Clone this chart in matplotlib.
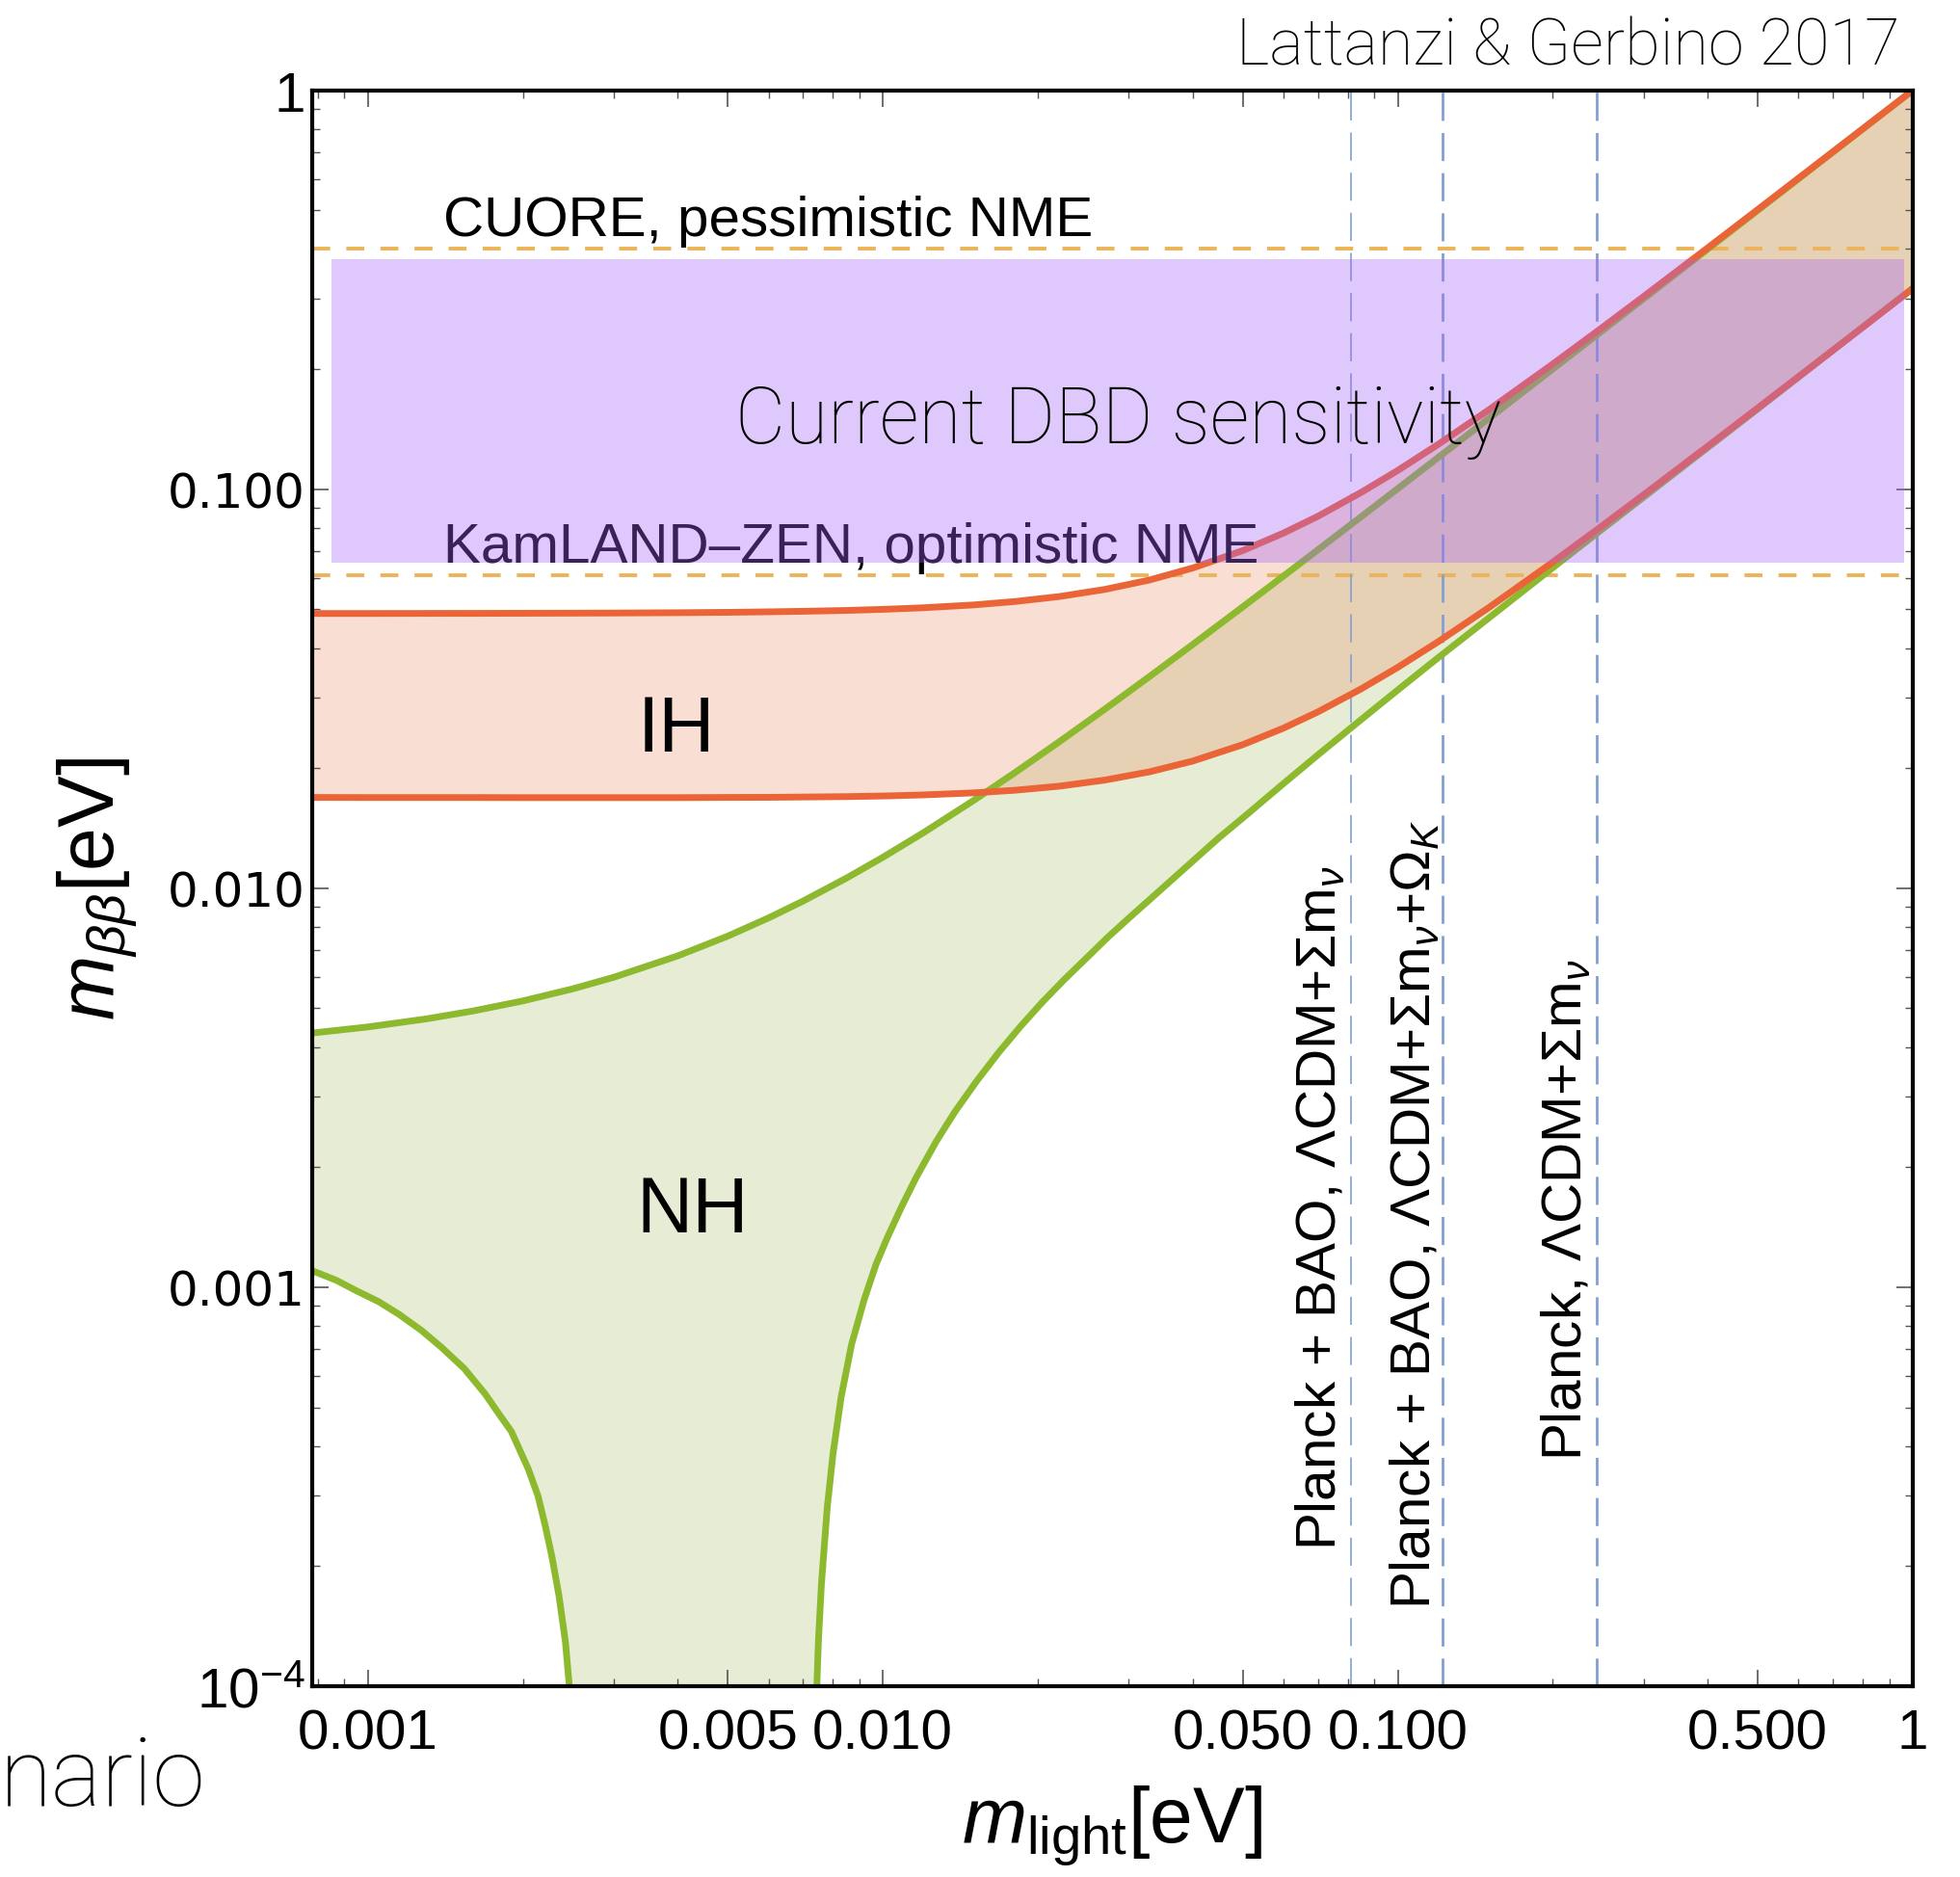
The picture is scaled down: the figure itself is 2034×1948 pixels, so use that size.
import matplotlib
matplotlib.use("Agg")
import matplotlib.pyplot as plt
from matplotlib.ticker import FixedLocator, FixedFormatter, LogLocator, NullFormatter

plt.rcParams['font.family'] = ['Liberation Sans', 'DejaVu Sans']
plt.rcParams['mathtext.fontset'] = 'custom'
plt.rcParams['mathtext.rm'] = 'Liberation Sans'
plt.rcParams['mathtext.it'] = 'Liberation Sans:italic'
plt.rcParams['mathtext.bf'] = 'Liberation Sans:bold'

# lightest neutrino mass grid [eV]
m_light = [0.00078, 0.001, 0.0013, 0.0016, 0.002, 0.0025, 0.003, 0.004, 0.005, 0.006, 0.007, 0.0085,
           0.01, 0.012, 0.015, 0.018, 0.022, 0.027, 0.033, 0.04, 0.05, 0.06, 0.07, 0.085,
           0.1, 0.12, 0.15, 0.2, 0.25, 0.3, 0.4, 0.5, 0.7, 1.0]

# inverted hierarchy band
ih_upper = [0.04883, 0.04883, 0.04885, 0.04886, 0.04889, 0.04892, 0.04896, 0.04905, 0.04916, 0.0493, 0.04945, 0.0497,
            0.0500, 0.05047, 0.0513, 0.0523, 0.05384, 0.05611, 0.05926, 0.0635, 0.0702, 0.07767, 0.0856, 0.09829,
            0.1115, 0.12976, 0.1579, 0.2060, 0.25483, 0.3040, 0.40304, 0.5024, 0.7017, 1.0]
ih_lower = [0.01689, 0.01688, 0.01688, 0.01688, 0.01687, 0.01687, 0.01687, 0.01687, 0.01689, 0.0169, 0.01693, 0.01697,
            0.01703, 0.01714, 0.01734, 0.0176, 0.01802, 0.01867, 0.01959, 0.02084, 0.0229, 0.0252, 0.02768, 0.03163,
            0.03579, 0.04154, 0.05044, 0.06568, 0.08117, 0.0968, 0.12825, 0.15984, 0.2232, 0.3184]

# normal hierarchy band
nh_upper = [0.004336, 0.004491, 0.004706, 0.004925, 0.005219, 0.005596, 0.00598, 0.00677, 0.007586, 0.008426, 0.009285,
            0.010603, 0.011953, 0.013786, 0.016589, 0.019436, 0.023276, 0.028123, 0.033981, 0.040855, 0.05072,
            0.060621, 0.070544, 0.085459, 0.100395, 0.120334, 0.15027, 0.2002, 0.250164, 0.30014, 0.400105,
            0.50008, 0.70006, 1.0]
nh_lower_left_x = [0.00078, 0.00087, 0.00095, 0.00105, 0.00115, 0.00127, 0.00139, 0.00154, 0.00169, 0.0018, 0.0019,
                   0.00205, 0.00214, 0.00221, 0.00228, 0.00235, 0.00242, 0.0025, 0.00256, 0.0026, 0.00263]
nh_lower_left_y = [0.00110, 0.00104, 0.00098, 0.00092, 0.000855, 0.00078, 0.000707, 0.000625, 0.00054, 0.00048, 0.000435,
                   0.00035, 0.0003, 0.000253, 0.00021, 0.000169, 0.000129, 8.0e-5, 4.5e-5, 2.2e-5, 1e-6]
nh_lower_right_x = [0.00724, 0.0073, 0.0074, 0.0075, 0.0076, 0.0078, 0.008, 0.0083, 0.0087, 0.0092, 0.0097, 0.0102,
                    0.0109, 0.0116, 0.0127, 0.0138, 0.0152, 0.0168, 0.0185, 0.0204, 0.0225, 0.0247, 0.0273, 0.03,
                    0.034, 0.04, 0.045, 0.05, 0.06, 0.07, 0.085, 0.1, 0.12, 0.15, 0.2, 0.25, 0.3, 0.4, 0.5, 0.7, 1.0]
nh_lower_right_y = [1e-6, 3.0e-5, 8.0e-5, 0.00013, 0.00018, 0.00028, 0.00038, 0.00053, 0.00072, 0.00093, 0.00114, 0.00133,
                    0.0016, 0.00188, 0.00232, 0.00275, 0.00328, 0.00388, 0.0045, 0.00518, 0.0059, 0.00663, 0.00752, 0.0084,
                    0.0097, 0.0117, 0.0134, 0.0150, 0.0183, 0.0216, 0.0265, 0.0314, 0.0379, 0.0475, 0.0636, 0.0796,
                    0.0955, 0.1273, 0.159, 0.223, 0.319]

# experimental limits and cosmological bounds
cuore_limit = 0.40
kamland_limit = 0.061
dbd_box_x = [0.00085, 0.961]
dbd_box_y = [0.0653, 0.377]
cosmo_bounds = [0.081, 0.122, 0.243]
cosmo_labels = [r'Planck + BAO, $\Lambda$CDM+$\Sigma$m$_{\nu}$',
                r'Planck + BAO, $\Lambda$CDM+$\Sigma$m$_{\nu}$+$\Omega_K$',
                r'Planck, $\Lambda$CDM+$\Sigma$m$_{\nu}$']
cosmo_label_x = [0.0758, 0.1153, 0.2273]
cosmo_label_y = [0.00022, 0.000157, 0.000369]

x_ticks = [0.001, 0.005, 0.01, 0.05, 0.1, 0.5, 1]
x_ticklabels = ['0.001', '0.005', '0.010', '0.050', '0.100', '0.500', '1']
y_ticks = [1e-4, 1e-3, 1e-2, 1e-1, 1]
y_ticklabels = [r'$10^{-4}$', '0.001', '0.010', '0.100', '1']

orange = '#EB6437'
green = '#8CB92D'
narrow = ['Liberation Sans Narrow', 'Liberation Sans', 'DejaVu Sans']
light = ['Roboto', 'Liberation Sans', 'DejaVu Sans']

fig = plt.figure(figsize=(20.34, 19.49), dpi=100)
ax = fig.add_axes([0.1593, 0.1016, 0.8166, 0.8498])
ax.set_xscale('log')
ax.set_yscale('log')
ax.set_xlim(0.00078, 1.0)
ax.set_ylim(1e-4, 1)

# NH region (lower edge drops to zero between the two branches)
low_x = nh_lower_left_x + nh_lower_right_x
low_y = nh_lower_left_y + nh_lower_right_y
ax.fill(m_light + low_x[::-1], nh_upper + low_y[::-1], color='#82A528', alpha=0.2, lw=0, zorder=1)
ax.fill_between(m_light, ih_lower, ih_upper, color='#EA8962', alpha=0.28, lw=0, zorder=1.1)

# limits
for yv in [cuore_limit, kamland_limit]:
    ax.axhline(yv, color='#EBB45A', lw=2.8, ls=(0, (4.8, 4.3)), zorder=2)
for i, xv in enumerate(cosmo_bounds):
    w = 1.2 if i == 0 else 2.0
    ax.axvline(xv, color='#82A0D2', lw=w, ls=(0, (21 / w, 9 / w)), zorder=2)

ax.plot(m_light, nh_upper, color=green, lw=5, zorder=3)
ax.plot(nh_lower_left_x, nh_lower_left_y, color=green, lw=5, zorder=3)
ax.plot(nh_lower_right_x, nh_lower_right_y, color=green, lw=5, zorder=3)
ax.plot(m_light, ih_upper, color=orange, lw=5, zorder=3.1)
ax.plot(m_light, ih_lower, color=orange, lw=5, zorder=3.1)

ax.text(0.0014, 0.433, 'CUORE, pessimistic NME', fontsize=42, color='black', zorder=6)
ax.text(0.0014, 0.066, 'KamLAND\u2013ZEN, optimistic NME', fontsize=42, color='black', zorder=4)

# current sensitivity band sits above the curves
ax.fill_between(dbd_box_x, dbd_box_y[0], dbd_box_y[1], color='#A662F6', alpha=0.35, lw=0, zorder=5)
ax.text(0.0286, 0.131, 'Current DBD sensitivity', fontsize=58, family=light, fontweight='light',
        ha='center', va='baseline', zorder=6)

ax.text(0.00397, 0.0221, 'IH', fontsize=58, ha='center', va='baseline', zorder=6)
ax.text(0.00427, 0.00138, 'NH', fontsize=58, ha='center', va='baseline', zorder=6)

for lab, lx, ly in zip(cosmo_labels, cosmo_label_x, cosmo_label_y):
    ax.text(lx, ly, lab, fontsize=42, rotation=90, rotation_mode='anchor',
            ha='left', va='baseline', zorder=6)

ax.xaxis.set_major_locator(FixedLocator(x_ticks))
ax.xaxis.set_major_formatter(FixedFormatter(x_ticklabels))
ax.xaxis.set_minor_locator(LogLocator(base=10, subs=[2, 3, 4, 6, 7, 8, 9], numticks=20))
ax.xaxis.set_minor_formatter(NullFormatter())
ax.yaxis.set_major_locator(FixedLocator(y_ticks))
ax.yaxis.set_major_formatter(FixedFormatter(y_ticklabels))
ax.yaxis.set_minor_locator(LogLocator(base=10, subs=[2, 3, 4, 5, 6, 7, 8, 9], numticks=20))
ax.yaxis.set_minor_formatter(NullFormatter())

ax.tick_params(which='both', direction='in', top=True, right=True, color='#555555')
ax.tick_params(which='major', length=12, width=1.2)
ax.tick_params(which='minor', length=6, width=1.0)
ax.tick_params(axis='x', pad=16)
ax.tick_params(axis='y', pad=5)

for t in ax.get_xticklabels():
    t.set_family(narrow)
    t.set_fontsize(42)
for t in ax.get_yticklabels():
    if t.get_text() in ('0.001', '0.010', '0.100'):
        t.set_family(['DejaVu Sans'])
        t.set_fontsize(36)
    else:
        t.set_family(narrow)
        t.set_fontsize(42)

for sp in ax.spines.values():
    sp.set_linewidth(3)
    sp.set_zorder(10)

ax.set_xlabel(r'$m_{\mathrm{light}}$[eV]', fontsize=58, labelpad=18)
ax.set_ylabel(r'$m_{\beta\beta}$[eV]', fontsize=58, labelpad=20)

fig.text(0.9695, 0.9656, 'Lattanzi & Gerbino 2017', fontsize=48, family=light, fontweight='light',
         ha='right', va='baseline')
fig.text(0.0, 0.0385, 'nario', fontsize=71, family=light, fontweight='light', ha='left', va='baseline')

fig.savefig('out.png', dpi=100)
